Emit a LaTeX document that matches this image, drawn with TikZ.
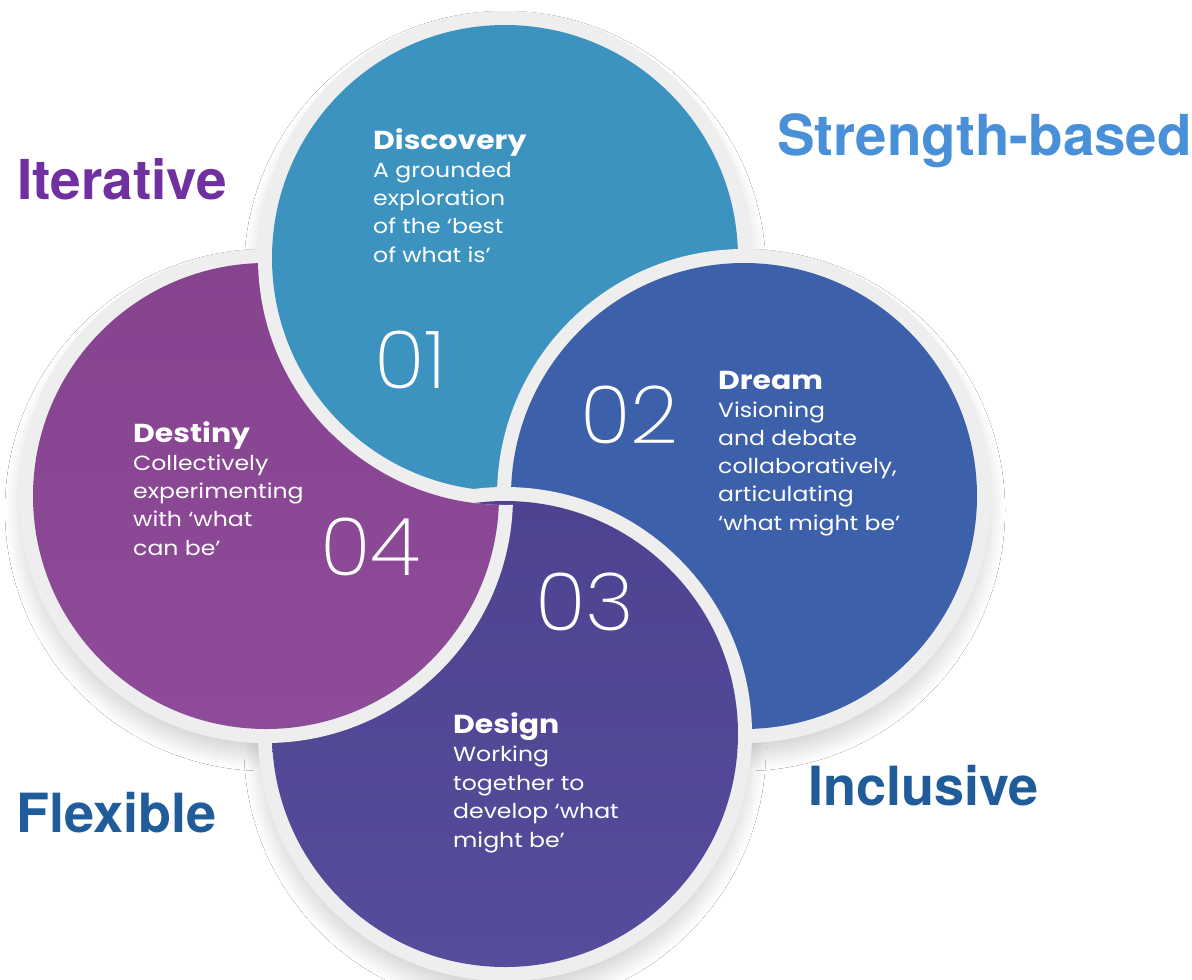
\documentclass[tikz,border=0pt]{standalone}
\usepackage{fontspec}
\setmainfont{Poppins}[FakeStretch=1.15]
\newfontfamily\numfont{Poppins ExtraLight}[FakeStretch=1.05]
\newfontfamily\helv{TeX Gyre Heros}
\usetikzlibrary{shadows.blur}
\definecolor{cdisc}{HTML}{3C93BF}
\definecolor{cdream}{HTML}{3D60AA}
\definecolor{cdesigntop}{HTML}{4D4391}
\definecolor{cdesignbot}{HTML}{554C9B}
\definecolor{cdesttop}{HTML}{86448F}
\definecolor{cdestbot}{HTML}{8D4B99}
\definecolor{ringgray}{HTML}{EEEEEE}
\definecolor{labpurple}{HTML}{7030A0}
\definecolor{lablight}{HTML}{4A90D9}
\definecolor{labdark}{HTML}{1F5C99}
\tikzset{
  ringfill/.style={fill=ringgray},
  destfill/.style={top color=cdesttop, bottom color=cdestbot},
  designfill/.style={top color=cdesigntop, bottom color=cdesignbot},
  head/.style={anchor=base west, inner sep=0pt, text=white, font=\fontsize{26}{28}\selectfont\bfseries},
  body/.style={anchor=base west, inner sep=0pt, text=white, font=\fontsize{20.5}{28}\selectfont},
  num/.style={anchor=base west, inner sep=0pt, text=white, font=\numfont\fontsize{80}{80}\selectfont},
  lab/.style={anchor=base west, inner sep=0pt, font=\helv\bfseries\fontsize{54}{60}\selectfont},
  shadowdisk/.style={fill=white, blur shadow={shadow xshift=0pt, shadow yshift=-14pt, shadow blur radius=16pt, shadow blur steps=24, shadow opacity=18}}
}
\begin{document}
\begin{tikzpicture}[x=1pt,y=-1pt]
\useasboundingbox (0,0) rectangle (1192,980);
\fill[white] (0,0) rectangle (1192,980);
\coordinate (cDisc) at (505,258);
\coordinate (cDream) at (744,496);
\coordinate (cDesign) at (505,734);
\coordinate (cDest) at (266,496);
% shadows
\foreach \c in {cDisc,cDream,cDesign,cDest}
  \path[shadowdisk] (\c) circle[radius=245];
% circles in order
\fill[ringfill] (cDest) circle[radius=247];
\shade[destfill] (cDest) circle[radius=233];
\fill[ringfill] (cDisc) circle[radius=247];
\fill[cdisc] (cDisc) circle[radius=233];
\fill[ringfill] (cDream) circle[radius=247];
\fill[cdream] (cDream) circle[radius=233];
\fill[ringfill] (cDesign) circle[radius=247];
\shade[designfill] (cDesign) circle[radius=233];
% Destiny above Design in lower-left quadrant (but below Discovery)
\begin{scope}[even odd rule]
  \clip (0,432) rectangle (513,980);
  \clip (0,420) rectangle (520,990) (cDisc) circle[radius=247];
  \fill[ringfill] (cDest) circle[radius=247];
  \shade[destfill] (cDest) circle[radius=233];
\end{scope}
% Discovery text
\node[head] (discH) at (373,149) {Discovery};
\foreach \t [count=\i] in {A grounded,exploration,of the ‘best,of what is’}
  \node[body] (disc\i) at (373,149+28.3*\i) {\t};
\node[num] (n01) at (374,388) {01};
% Dream text
\node[head] (dreamH) at (718,389) {Dream};
\foreach \t [count=\i] in {Visioning,and debate,{collaboratively,},articulating,‘what might be’}
  \node[body] (dream\i) at (718,389+28.2*\i) {\t};
\node[num] (n02) at (580,443) {02};
% Design text
\node[head] (desH) at (453,733) {Design};
\foreach \t [count=\i] in {Working,together to,develop ‘what,might be’}
  \node[body] (des\i) at (453,733+28.5*\i) {\t};
\node[num] (n03) at (535,630) {03};
% Destiny text
\node[head] (destH) at (133,442) {Destiny};
\foreach \t [count=\i] in {Collectively,experimenting,with ‘what,can be’}
  \node[body] (dest\i) at (133,442+28.3*\i) {\t};
\node[num] (n04) at (320,575) {04};
% outer labels
\node[lab, text=labpurple, font=\helv\bfseries\fontsize{55}{60}\selectfont] (iter) at (17,199) {Iterative};
\node[lab, text=lablight, font=\helv\bfseries\fontsize{56.5}{60}\selectfont] (str) at (777,155) {Strength-based};
\node[lab, text=labdark] (flex) at (16,832) {Flexible};
\node[lab, text=labdark] (incl) at (808,805) {Inclusive};
\end{tikzpicture}
\end{document}
